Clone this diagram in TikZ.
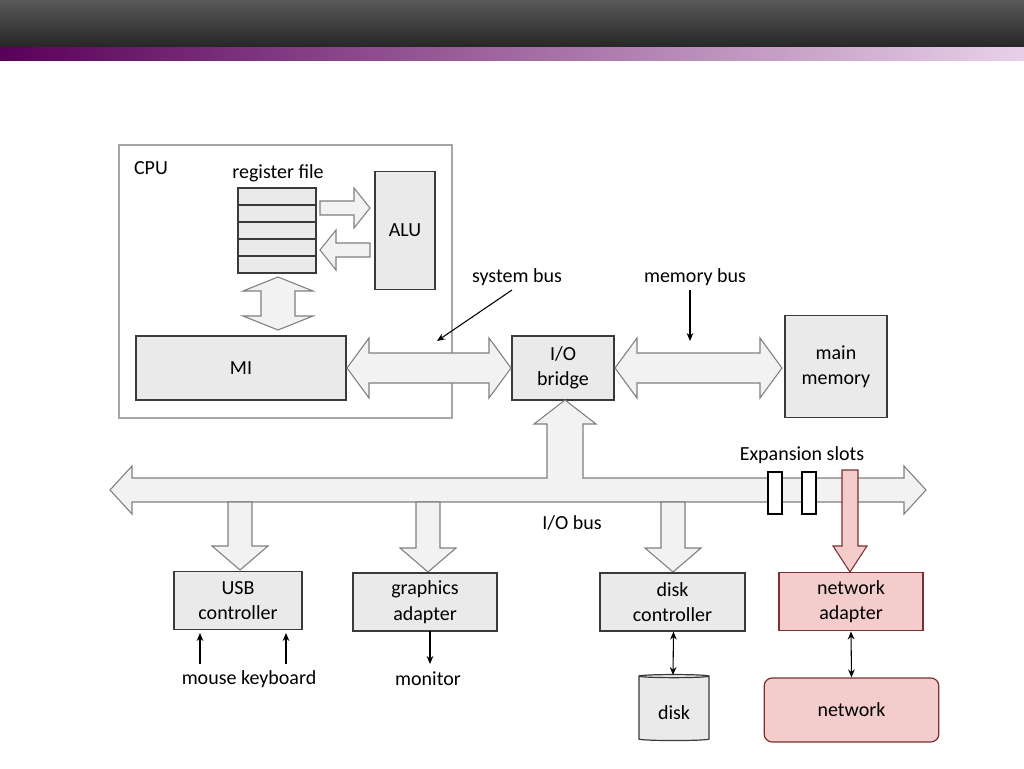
\documentclass[tikz,border=0pt]{standalone}
\usepackage{fontspec}
\setmainfont{Carlito}
\usetikzlibrary{shapes.geometric,arrows.meta}
\definecolor{boxf}{HTML}{EAEAEA}
\definecolor{boxd}{HTML}{3A3A3A}
\definecolor{arrf}{HTML}{F2F2F2}
\definecolor{arrd}{HTML}{7F7F7F}
\definecolor{pinkf}{HTML}{F4CCCC}
\definecolor{pinkd}{HTML}{7A3030}
\newcommand{\HDarrow}[6]{% x1 x2 y halfshaft halfhead headlen
\draw[blockarr,#6] (#1,#3) -- (#1+22,#3-#5) -- (#1+22,#3-#4) -- (#2-22,#3-#4) -- (#2-22,#3-#5) -- (#2,#3) -- (#2-22,#3+#5) -- (#2-22,#3+#4) -- (#1+22,#3+#4) -- (#1+22,#3+#5) -- cycle;}
\newcommand{\VDown}[5]{% x ytop ybot halfshaft halfhead
\draw[blockarr,#5] (#1-12,#2) -- (#1+12,#2) -- (#1+12,#3-24) -- (#1+28,#3-24) -- (#1,#3) -- (#1-28,#3-24) -- (#1-12,#3-24) -- cycle;}
\begin{document}
\begin{tikzpicture}[x=0.75pt,y=-0.75pt,
  box/.style={draw=boxd,fill=boxf,line width=0.9pt,align=center,inner sep=0pt,font=\fontsize{15}{19}\selectfont},
  lbl/.style={font=\fontsize{15}{19}\selectfont,inner sep=0pt},
  blockarr/.style={draw=arrd,fill=arrf,line width=0.8pt,line join=miter},
  thin/.style={-{Stealth[length=6pt,width=5pt]},line width=0.8pt}]
\useasboundingbox (0,0) rectangle (1024,768);
\shade[top color=black!65,bottom color=black!85] (0,0) rectangle (1024,47);
\shade[left color=black!85!violet,right color=violet!20] (0,47) rectangle (1024,60);
\shade[left color=violet!70!black,right color=violet!18] (0,47) rectangle (1024,60);
% CPU
\draw[black!35,line width=0.8pt] (119,145) rectangle (452,418);
\node[lbl] (cpu) at (151,168) {CPU};
\node[lbl] (rf) at (278,173) {register file};
\foreach \i in {0,...,4}{\draw[boxd,fill=boxf,line width=0.9pt] (238,188+\i*17) rectangle (316,205+\i*17);}
\node[box,minimum width=45pt,minimum height=89pt] (alu) at (405,230.5) {ALU};
\draw[blockarr] (320,201) -- (354,201) -- (354,188) -- (370,208) -- (354,228) -- (354,215) -- (320,215) -- cycle;
\draw[blockarr] (370,243) -- (336,243) -- (336,230) -- (320,250) -- (336,270) -- (336,257) -- (370,257) -- cycle;
\draw[blockarr] (278,277) -- (313,291) -- (295,291) -- (295,316) -- (313,316) -- (278,330) -- (243,316) -- (261,316) -- (261,291) -- (243,291) -- cycle;
\node[box,minimum width=157.5pt,minimum height=48pt] (mi) at (241,368) {MI};
\node[box,minimum width=76.5pt,minimum height=48pt] (iob) at (563,368) {I/O\\bridge};
\node[box,minimum width=76.5pt,minimum height=76pt] (mm) at (836,366.5) {main\\memory};
\HDarrow{347}{511}{368}{15}{30}{}
\HDarrow{615}{782}{368}{15}{30}{}
\node[lbl] (sb) at (517,277) {system bus};
\node[lbl] (mb) at (695,277) {memory bus};
\coordinate (sbt) at (437,341);
\coordinate (mbt) at (690,341);
\draw[thin] (512,290) -- (sbt);
\draw[thin] (690,290) -- (mbt);
% I/O bus
\HDarrow{110}{926}{490}{12}{24}{}
\draw[blockarr] (547,478) -- (547,424) -- (534,424) -- (565,400) -- (596,424) -- (583,424) -- (583,478);
\draw[arrf,line width=1pt] (548,479) -- (582,479);
\node[lbl] (iobus) at (572,523) {I/O bus};
\node[lbl] (exp) at (802,455) {Expansion slots};
\draw[black,fill=white,line width=0.8pt] (768,472) rectangle (782,514);
\draw[black,fill=white,line width=0.8pt] (802,472) rectangle (816,514);
\VDown{240}{502}{570}{12}{}
\VDown{428}{502}{572}{12}{}
\VDown{673}{502}{572}{12}{}
\draw[pinkd,fill=pinkf,line width=0.8pt] (842,470) -- (858,470) -- (858,546) -- (867,546) -- (850,572) -- (833,546) -- (842,546) -- cycle;
\node[box,minimum width=96pt,minimum height=44pt] (usb) at (238,600.5) {USB\\controller};
\node[box,minimum width=108pt,minimum height=43.5pt] (gfx) at (425,602) {graphics\\adapter};
\node[box,minimum width=108.75pt,minimum height=43.5pt] (dc) at (672.5,602) {disk\\controller};
\node[box,draw=pinkd,fill=pinkf,minimum width=108pt,minimum height=44pt] (na) at (851,601.5) {network\\adapter};
\node[lbl] (mk) at (249,679) {mouse keyboard};
\node[lbl] (mon) at (428,679) {monitor};
\coordinate (ms) at (200,664);
\coordinate (kb) at (286,664);
\draw[thin] (ms) -- (200,633);
\draw[thin] (kb) -- (286,633);
\draw[thin] (430,631) -- (430,664);
\node[cylinder,shape border rotate=90,draw=boxd,fill=boxf,line width=0.9pt,minimum width=52.5pt,minimum height=49.5pt,aspect=0.35,font=\fontsize{15}{19}\selectfont] (disk) at (674,709) {};
\node[lbl] at (674,713) {disk};
\draw[{Stealth[length=6pt,width=5pt]}-{Stealth[length=6pt,width=5pt]},line width=0.8pt] (dc.south) ++(1,0) -- (673,675);
\node[box,draw=pinkd,fill=pinkf,rounded corners=6pt,minimum width=131pt,minimum height=48pt] (net) at (851.5,710) {network};
\draw[{Stealth[length=6pt,width=5pt]}-{Stealth[length=6pt,width=5pt]},line width=0.8pt] (na.south) -- (net.north);
\end{tikzpicture}
\end{document}
